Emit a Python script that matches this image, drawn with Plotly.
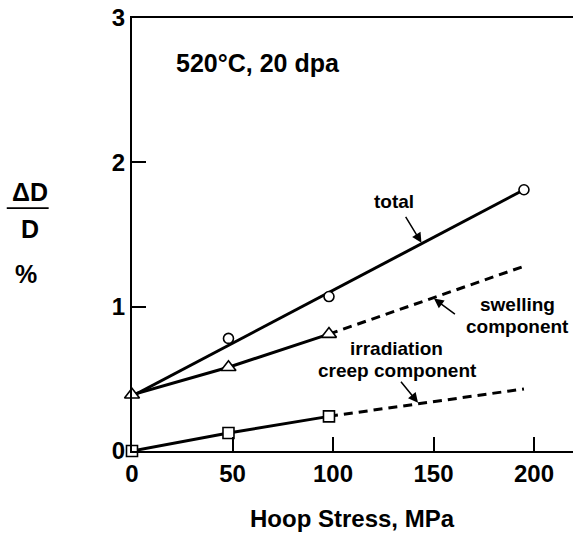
import plotly.graph_objects as go

# ---- data ----
total_x = [48, 98, 195]
total_y = [0.78, 1.07, 1.81]
total_fit_x = [0, 195]
total_fit_y = [0.38, 1.81]

swell_x = [0, 48, 98]
swell_y = [0.39, 0.58, 0.81]
swell_ext_x = [98, 195]
swell_ext_y = [0.81, 1.28]

creep_x = [0, 48, 98]
creep_y = [0.0, 0.125, 0.24]
creep_ext_x = [98, 195]
creep_ext_y = [0.24, 0.43]

x_ticks = [0, 50, 100, 150, 200]
y_ticks = [0, 1, 2, 3]

FONT = "Liberation Sans, Arial, Helvetica, sans-serif"
BLACK = "#000000"

fig = go.Figure()

# lines
fig.add_trace(go.Scatter(x=total_fit_x, y=total_fit_y, mode="lines",
                         line=dict(color=BLACK, width=3), hoverinfo="skip"))
fig.add_trace(go.Scatter(x=swell_x, y=swell_y, mode="lines",
                         line=dict(color=BLACK, width=3), hoverinfo="skip"))
fig.add_trace(go.Scatter(x=swell_ext_x, y=swell_ext_y, mode="lines",
                         line=dict(color=BLACK, width=3, dash="9px,6px"), hoverinfo="skip"))
fig.add_trace(go.Scatter(x=creep_x, y=creep_y, mode="lines",
                         line=dict(color=BLACK, width=3), hoverinfo="skip"))
fig.add_trace(go.Scatter(x=creep_ext_x, y=creep_ext_y, mode="lines",
                         line=dict(color=BLACK, width=3, dash="9px,6px"), hoverinfo="skip"))

# markers
fig.add_trace(go.Scatter(x=total_x, y=total_y, mode="markers", cliponaxis=False,
                         marker=dict(symbol="circle", size=10, color="white",
                                     line=dict(color=BLACK, width=1.6))))
fig.add_trace(go.Scatter(x=swell_x, y=swell_y, mode="markers", cliponaxis=False,
                         marker=dict(symbol="triangle-up", size=13, color="white",
                                     line=dict(color=BLACK, width=1.6))))
fig.add_trace(go.Scatter(x=creep_x, y=creep_y, mode="markers", cliponaxis=False,
                         marker=dict(symbol="square", size=11, color="white",
                                     line=dict(color=BLACK, width=1.6))))

lab = dict(family=FONT, size=19, color=BLACK, weight="bold")

ann = [
    dict(x=62.9, y=2.687, text="520°C, 20 dpa",
         font=dict(family=FONT, size=25, color=BLACK, weight="bold")),
    dict(x=130.2, y=1.726, text="total", font=lab),
    dict(x=191.7, y=1.018, text="swelling", font=lab),
    dict(x=191.7, y=0.862, text="component", font=lab),
    dict(x=131.7, y=0.71, text="irradiation", font=lab),
    dict(x=131.9, y=0.555, text="creep component", font=lab),
]
annotations = []
for a in ann:
    a.update(xref="x", yref="y", showarrow=False, xanchor="center", yanchor="middle")
    annotations.append(a)

arrows = [
    ((135.7, 1.633), (144.0, 1.443)),
    ((161.4, 0.94), (150.2, 1.056)),
    ((133.2, 0.49), (142.3, 0.335)),
]
for (tx, ty), (hx, hy) in arrows:
    annotations.append(dict(x=hx, y=hy, ax=tx, ay=ty, xref="x", yref="y",
                            axref="x", ayref="y", text="", showarrow=True,
                            arrowhead=2, arrowsize=1.3, arrowwidth=1.5,
                            arrowcolor=BLACK, standoff=0))

# y-axis title: fraction ΔD / D and %
yl = dict(family=FONT, size=25, color=BLACK, weight="bold")
annotations += [
    dict(x=-0.2318, y=0.597, xref="paper", yref="paper", text="ΔD", showarrow=False,
         font=yl, xanchor="center", yanchor="middle"),
    dict(x=-0.2318, y=0.513, xref="paper", yref="paper", text="D", showarrow=False,
         font=yl, xanchor="center", yanchor="middle"),
    dict(x=-0.2396, y=0.408, xref="paper", yref="paper", text="%", showarrow=False,
         font=yl, xanchor="center", yanchor="middle"),
    dict(x=0.5, y=-0.155, xref="paper", yref="paper", text="Hoop Stress, MPa",
         showarrow=False, font=dict(family=FONT, size=24, color=BLACK, weight="bold"),
         xanchor="center", yanchor="middle"),
]

fig.update_layout(
    width=573, height=533,
    margin=dict(l=132, r=0, t=18, b=82),
    paper_bgcolor="white", plot_bgcolor="white",
    showlegend=False,
    annotations=annotations,
    shapes=[dict(type="line", xref="paper", yref="paper",
                 x0=-0.284, x1=-0.189, y0=0.561, y1=0.561,
                 line=dict(color=BLACK, width=1.8))],
    font=dict(family=FONT, color=BLACK),
)
fig.update_xaxes(range=[0, 219.4], tickvals=x_ticks, ticktext=[str(v) for v in x_ticks],
                 showgrid=False, zeroline=False, showline=True, linecolor=BLACK,
                 linewidth=2, mirror=True, ticks="inside", ticklen=14, tickwidth=1.5,
                 tickcolor=BLACK, tickfont=dict(family=FONT, size=24, color=BLACK, weight="bold"))
fig.update_yaxes(range=[0, 3], tickvals=y_ticks, ticktext=[str(v) for v in y_ticks],
                 showgrid=False, zeroline=False, showline=True, linecolor=BLACK,
                 linewidth=2, mirror=False, ticks="inside", ticklen=14, tickwidth=1.5,
                 tickcolor=BLACK, tickfont=dict(family=FONT, size=24, color=BLACK, weight="bold"))

fig.write_html("out.html")
